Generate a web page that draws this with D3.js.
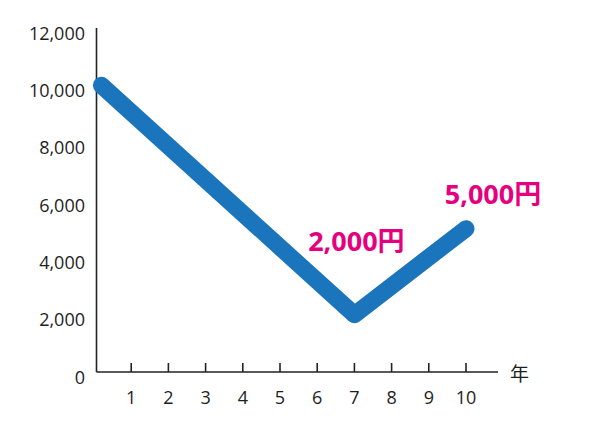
<!DOCTYPE html>
<html>
<head>
<meta charset="utf-8">
<script src="https://cdn.jsdelivr.net/npm/d3@7"></script>
<style>
  body { margin: 0; background: #fff; }
  svg { display: block; }
</style>
</head>
<body>
<svg id="chart" width="600" height="434"></svg>
<script>
// data
const years = [0.2, 7, 10];
const values = [10000, 2000, 5000];
const xTicks = [1, 2, 3, 4, 5, 6, 7, 8, 9, 10];
const yTicks = [0, 2000, 4000, 6000, 8000, 10000, 12000];
const calloutYears = [7, 10];
const calloutValues = [2000, 5000];
const calloutTexts = ["2,000円", "5,000円"];

const svg = d3.select("#chart");
const font = "'Open Sans', 'Noto Sans CJK JP', sans-serif";

const x = d3.scaleLinear().domain([0, 10]).range([94, 466]);
const y = d3.scaleLinear().domain([0, 12000]).range([372, 28]);
const axisLeft = 96.5;

// axes lines
svg.append("line")
  .attr("x1", axisLeft).attr("x2", axisLeft)
  .attr("y1", y(12000)).attr("y2", y(0))
  .attr("stroke", "#222").attr("stroke-width", 1.6);

svg.append("line")
  .attr("x1", axisLeft).attr("x2", 498)
  .attr("y1", y(0)).attr("y2", y(0))
  .attr("stroke", "#222").attr("stroke-width", 1.6);

// x ticks point upward
svg.append("g")
  .selectAll("line")
  .data(xTicks)
  .join("line")
  .attr("x1", (d) => x(d)).attr("x2", (d) => x(d))
  .attr("y1", y(0)).attr("y2", y(0) - 9)
  .attr("stroke", "#222").attr("stroke-width", 1.6);

svg.append("g")
  .selectAll("text")
  .data(xTicks)
  .join("text")
  .attr("x", (d) => x(d))
  .attr("y", y(0) + 32)
  .attr("text-anchor", "middle")
  .style("font-family", font)
  .style("font-size", "18px")
  .style("fill", "#1e1e1e")
  .text((d) => d);

// y labels (no tick marks)
svg.append("g")
  .selectAll("text")
  .data(yTicks)
  .join("text")
  .attr("x", 85)
  .attr("y", (d) => y(d) + 11.5)
  .attr("text-anchor", "end")
  .style("font-family", font)
  .style("font-size", "18px")
  .style("fill", "#1e1e1e")
  .text((d) => d3.format(",")(d));

svg.append("text")
  .attr("x", 510)
  .attr("y", y(0) + 9)
  .style("font-family", "'Noto Sans CJK JP', sans-serif")
  .style("font-size", "19px")
  .style("fill", "#1e1e1e")
  .text("年");

// the line
const line = d3.line()
  .x((d) => x(d[0]))
  .y((d) => y(d[1]));

svg.append("path")
  .datum(d3.zip(years, values))
  .attr("d", line)
  .attr("fill", "none")
  .attr("stroke", "#1b75bc")
  .attr("stroke-width", 17)
  .attr("stroke-linecap", "round")
  .attr("stroke-linejoin", "round");

// callout labels: first sits above the dip, second up-right of the end point
const calloutDx = [2, 27];
const calloutDy = [-64, -25];
svg.append("g")
  .selectAll("text")
  .data(d3.range(calloutTexts.length))
  .join("text")
  .attr("x", (i) => x(calloutYears[i]) + calloutDx[i])
  .attr("y", (i) => y(calloutValues[i]) + calloutDy[i])
  .attr("text-anchor", "middle")
  .style("font-family", font)
  .style("font-size", "27px")
  .style("font-weight", "bold")
  .style("fill", "#e4007f")
  .text((i) => calloutTexts[i]);
</script>
</body>
</html>
